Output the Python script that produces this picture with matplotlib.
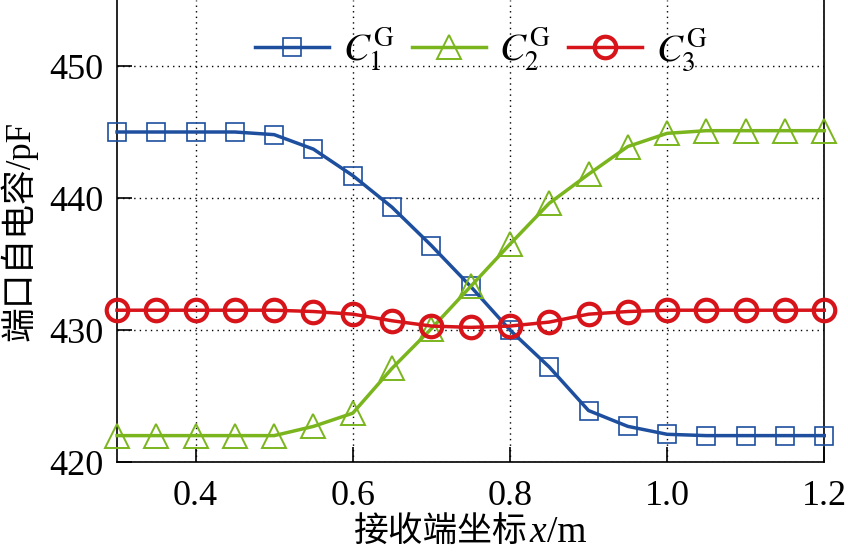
import matplotlib
matplotlib.use("Agg")
import matplotlib.pyplot as plt
from matplotlib.offsetbox import TextArea, HPacker, AnchoredOffsetbox

# receiver position x (m)
x = [0.30, 0.35, 0.40, 0.45, 0.50, 0.55, 0.60, 0.65, 0.70, 0.75,
     0.80, 0.85, 0.90, 0.95, 1.00, 1.05, 1.10, 1.15, 1.20]

# port self-capacitance (pF)
c1 = [445.0, 445.0, 445.0, 445.0, 444.8, 443.7, 441.7, 439.3, 436.4, 433.3,
      430.0, 427.2, 423.9, 422.7, 422.1, 422.0, 422.0, 422.0, 422.0]
c2 = [422.0, 422.0, 422.0, 422.0, 422.0, 422.7, 423.7, 427.1, 430.1, 433.3,
      436.5, 439.6, 441.8, 443.9, 444.9, 445.1, 445.1, 445.1, 445.1]
c3 = [431.5, 431.5, 431.5, 431.5, 431.5, 431.4, 431.2, 430.7, 430.3, 430.2,
      430.3, 430.6, 431.2, 431.4, 431.5, 431.5, 431.5, 431.5, 431.5]

labels = [r"$C_1^{\mathrm{G}}$", r"$C_2^{\mathrm{G}}$", r"$C_3^{\mathrm{G}}$"]
xticks = [0.4, 0.6, 0.8, 1.0, 1.2]
yticks = [420, 430, 440, 450]

plt.rcParams["font.family"] = ["Liberation Serif", "Noto Sans CJK SC"]
plt.rcParams["mathtext.fontset"] = "stix"

fig = plt.figure(figsize=(8.48, 5.59), dpi=100)
ax = fig.add_axes([0.138, 0.1735, 0.834, 0.8265])

ax.plot(x, c1, color="#1d4f9e", lw=2.5, marker="s", ms=12.5, mfc="none",
        mec="#1d4f9e", mew=1.2, label=labels[0], clip_on=False, zorder=3)
ax.plot(x, c2, color="#7ab51d", lw=2.5, marker="^", ms=17, mfc="none",
        mec="#7ab51d", mew=1.4, label=labels[1], clip_on=False, zorder=3)
ax.plot(x, c3, color="#d7141a", lw=2.5, marker="o", ms=15.5, mfc="none",
        mec="#d7141a", mew=3.0, label=labels[2], clip_on=False, zorder=3)

ax.set_xlim(0.3, 1.2)
ax.set_ylim(420, 455)
ax.set_xticks(xticks)
ax.set_xticklabels(["0.4", "0.6", "0.8", "1.0", "1.2"])
ax.set_yticks(yticks)
ax.tick_params(direction="in", length=11, width=1.2, labelsize=26, pad=10)
ax.tick_params(axis="x", pad=13)
ax.spines["top"].set_visible(False)
for s in ["left", "bottom", "right"]:
    ax.spines[s].set_linewidth(1.2)
ax.grid(True, ls=(0, (1, 3)), color="black", lw=1.0)

# x label: CJK text + italic x + /m
parts = [
    TextArea("接收端坐标", textprops=dict(family=["Noto Sans CJK SC"], size=25)),
    TextArea("x", textprops=dict(family="Liberation Serif", style="italic", size=27)),
    TextArea("/m", textprops=dict(family="Liberation Serif", size=27)),
]
box = HPacker(children=parts, align="baseline", pad=0, sep=1)
anch = AnchoredOffsetbox(loc="center", child=box, pad=0, frameon=False,
                         bbox_to_anchor=(0.555, 0.047),
                         bbox_transform=fig.transFigure, borderpad=0)
fig.add_artist(anch)

ax.set_ylabel("端口自电容/pF", fontsize=25, labelpad=8)

ax.legend(loc="upper center", ncol=3, frameon=False, fontsize=28,
          bbox_to_anchor=(0.515, 1.02), handlelength=1.9, columnspacing=0.45,
          handletextpad=0.35)

fig.savefig("out.png", dpi=100)
